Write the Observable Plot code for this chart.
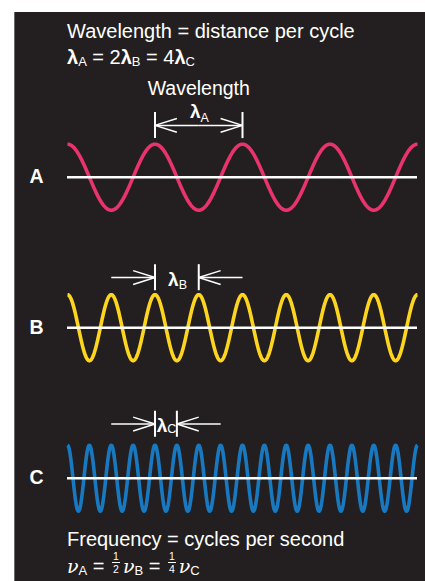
<!DOCTYPE html>
<html>
<head>
<meta charset="utf-8">
<script src="https://cdn.jsdelivr.net/npm/d3@7"></script>
<script src="https://cdn.jsdelivr.net/npm/@observablehq/plot@0.6"></script>
<style>
html,body{margin:0;padding:0;background:#fff;}
body{width:425px;height:581px;position:relative;overflow:hidden;font-family:"Liberation Sans",Arial,Helvetica,sans-serif;}
#panel{position:absolute;left:14px;top:12px;width:410px;height:569px;background:#231f20;border-left:1px solid #6b6b6d;}
.line{position:absolute;left:52px;white-space:nowrap;color:#fff;font-size:20px;line-height:26px;}
.lam{font-weight:bold;font-size:20px;}
.sub{font-size:13px;vertical-align:-2px;line-height:1;}
.nu{font-family:"DejaVu Serif","Liberation Serif",serif;font-style:italic;font-size:19px;}
.frac{display:inline-block;font-size:10.5px;line-height:12px;text-align:center;vertical-align:baseline;margin:0 3px 0 2px;}
.frac span{display:block;}
.frac .num{border-bottom:1px solid #fff;padding:0 1px;}
#chart{position:absolute;left:-15px;top:58px;}
</style>
</head>
<body>
<div id="panel">
  <div class="line" style="top:6px">Wavelength = distance per cycle</div>
  <div class="line" style="top:32px"><span class="lam">λ</span><span class="sub">A</span> = 2<span class="lam">λ</span><span class="sub">B</span> = 4<span class="lam">λ</span><span class="sub">C</span></div>
  <div id="chart"></div>
  <div class="line" style="top:514px">Frequency = cycles per second</div>
  <div class="line" style="top:538px"><span class="nu">ν</span><span class="sub">A</span> = <span class="frac"><span class="num">1</span><span>2</span></span><span class="nu">ν</span><span class="sub">B</span> = <span class="frac"><span class="num">1</span><span>4</span></span><span class="nu">ν</span><span class="sub">C</span></div>
</div>
<script>
// ---- data ----
const rows = ["A", "B", "C"];
const cycles = [4, 8, 16];                 // cycles across the drawn span
const colors = ["#e8336d", "#fdd41e", "#1879c1"];
const span = 4;                            // drawn span, in units of λA
const annotationTitle = "Wavelength";
const arrowY = [1.57, 1.52, 1.64];         // height of the measuring arrows (in amplitudes)
const barLo = [1.17, 1.12, 1.24];
const barHi = [1.96, 1.91, 2.03];
const lamX = [1.52, 1.27, 1.14];
const lamY = [1.79, 1.26, 1.40];
const subY = [1.67, 1.18, 1.37];

// ---- derived tables ----
const N = 800;
const wave = rows.flatMap((r, i) =>
  d3.range(N + 1).map(k => {
    const x = span * k / N;
    return {row: r, x, y: Math.cos(2 * Math.PI * cycles[i] * x / span)};
  })
);

const bars = rows.flatMap((r, i) => {
  const w = span / cycles[i];
  return [1, 1 + w].map(x => ({row: r, x, y1: barLo[i], y2: barHi[i]}));
});

const headDx = 0.25, headDy = 0.21;
const segs = [];
rows.forEach((r, i) => {
  const w = span / cycles[i];
  const y = arrowY[i];
  const arrows = i === 0
    ? [{from: 1 + w / 2, to: 1}, {from: 1 + w / 2, to: 1 + w}]
    : [{from: 0.5, to: 1}, {from: 1 + w + 0.5, to: 1 + w}];
  arrows.forEach(a => {
    const dir = Math.sign(a.to - a.from);
    segs.push({row: r, x1: a.from, y1: y, x2: a.to, y2: y});
    segs.push({row: r, x1: a.to, y1: y, x2: a.to - dir * headDx, y2: y + headDy});
    segs.push({row: r, x1: a.to, y1: y, x2: a.to - dir * headDx, y2: y - headDy});
  });
});

const lamLabels = rows.map((r, i) => ({row: r, x: lamX[i], y: lamY[i], ys: subY[i], sub: r}));
const titleData = [{row: "A", x: 1.5, y: 2.48, label: annotationTitle}];

const font = '"Liberation Sans", Arial, Helvetica, sans-serif';

const chart = Plot.plot({
  width: 425,
  height: 451,
  marginTop: 11,
  marginBottom: 7,
  marginLeft: 67,
  marginRight: 8,
  style: {background: "transparent", fontFamily: font, color: "#fff", overflow: "visible"},
  x: {domain: [0, span], axis: null},
  y: {domain: [-1.1, 2.9], axis: null},
  fy: {domain: rows, axis: null, paddingInner: 0.1229, paddingOuter: 0, round: false},
  color: {domain: rows, range: colors},
  marks: [
    Plot.line(wave, {fy: "row", x: "x", y: "y", z: "row", stroke: "row", strokeWidth: 3.6, strokeLinecap: "butt", curve: "linear"}),
    Plot.ruleY(rows, {fy: d => d, y: 0, x1: 0, x2: span, stroke: "#fff", strokeWidth: 2.6}),
    Plot.ruleX(bars, {fy: "row", x: "x", y1: "y1", y2: "y2", stroke: "#fff", strokeWidth: 2}),
    Plot.link(segs, {fy: "row", x1: "x1", y1: "y1", x2: "x2", y2: "y2", stroke: "#fff", strokeWidth: 1.5}),
    Plot.text(titleData, {fy: "row", x: "x", y: "y", text: "label", fill: "#fff", fontSize: 19.5, lineAnchor: "bottom"}),
    Plot.text(lamLabels, {fy: "row", x: "x", y: "y", text: () => "λ", fill: "#fff", fontSize: 19, fontWeight: "bold", textAnchor: "end", lineAnchor: "bottom"}),
    Plot.text(lamLabels, {fy: "row", x: "x", y: "ys", text: "sub", fill: "#fff", fontSize: 12.5, textAnchor: "start", lineAnchor: "bottom"}),
    Plot.text(rows, {fy: d => d, text: d => d, x: -0.354, y: 0, fill: "#fff", fontSize: 19.5, fontWeight: "bold"})
  ]
});
document.getElementById("chart").appendChild(chart);
</script>
</body>
</html>
